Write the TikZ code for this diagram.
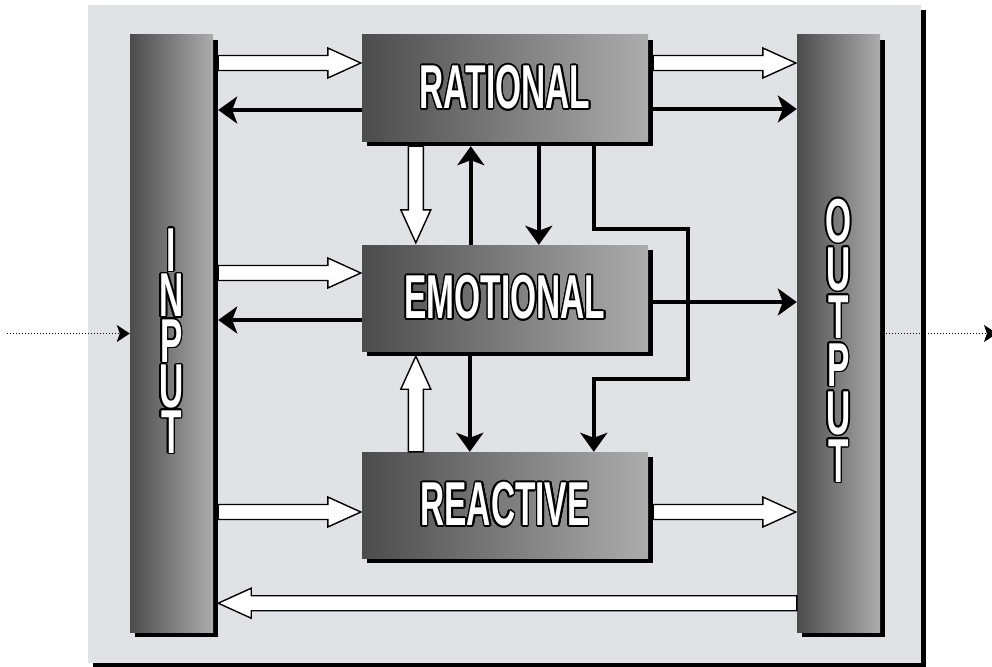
\documentclass[tikz,border=0pt]{standalone}
\usepackage{fontspec}
\usepackage{xcolor}
\usepackage[copies]{contour}
\usepackage{tikz}
\usetikzlibrary{arrows.meta,calc,shadows}
\newfontfamily\blockfont[FakeStretch=0.54]{Liberation Sans}
\definecolor{marble}{RGB}{224,226,230}
\definecolor{steeldark}{RGB}{76,76,76}
\definecolor{steellight}{RGB}{172,172,172}
\contourlength{1.6pt}

\begin{document}
\begin{tikzpicture}[
    x=1pt,y=-1pt,
    font=\blockfont\bfseries\fontsize{62}{62}\selectfont,
    box/.style={left color=steeldark,right color=steellight,text=white,
        minimum width=286pt,minimum height=106pt,inner sep=0pt,
        drop shadow={shadow xshift=5pt,shadow yshift=-5pt,fill=black,opacity=1}},
    bar/.style={left color=steeldark,right color=steellight,text=white,
        minimum width=83pt,minimum height=597pt,inner sep=0pt,align=center,
        drop shadow={shadow xshift=5pt,shadow yshift=-5pt,fill=black,opacity=1}},
    arrow/.style={-{Stealth[length=19pt,width=27pt,inset=5pt]},line width=4.5pt,
        draw=black,line join=miter},
    flow/.style={-{Stealth[length=13pt,width=17pt,inset=3pt]},line width=1.2pt,
        dash pattern=on 1.2pt off 1.8pt},
    hollow/.style={draw=black,line width=1.4pt,fill=white,line join=miter,
        to path={($(\tikztostart)!7.5pt!90:(\tikztotarget)$)
            -- ($(\tikztotarget)!33pt!(\tikztostart)!7.5pt!90:(\tikztotarget)$)
            -- ($(\tikztotarget)!33pt!(\tikztostart)!15pt!90:(\tikztotarget)$)
            -- (\tikztotarget)
            -- ($(\tikztotarget)!33pt!(\tikztostart)!15pt!-90:(\tikztotarget)$)
            -- ($(\tikztotarget)!33pt!(\tikztostart)!7.5pt!-90:(\tikztotarget)$)
            -- ($(\tikztostart)!7.5pt!-90:(\tikztotarget)$) -- cycle}}
]
\useasboundingbox (0,0) rectangle (992,666);
\fill[black] (93,10) rectangle (926,668);
\fill[marble] (88,5) rectangle (921,663);

\node[bar,text height=241pt,font=\blockfont\bfseries\fontsize{62}{45.5}\selectfont] (input) at (171.5,333.5)
    {\contour{black}{I}\\\contour{black}{N}\\\contour{black}{P}\\\contour{black}{U}\\\contour{black}{T}};
\node[bar,text height=299pt,font=\blockfont\bfseries\fontsize{62}{48}\selectfont] (output) at (838.5,333.5)
    {\contour{black}{O}\\\contour{black}{U}\\\contour{black}{T}\\\contour{black}{P}\\\contour{black}{U}\\\contour{black}{T}};
\node[box] (rational) at (505,88) {\contour{black}{RATIONAL}};
\node[box] (emotional) at (505,298) {\contour{black}{EMOTIONAL}};
\node[box] (reactive) at (505,505) {\contour{black}{REACTIVE}};

\coordinate (source) at (7,333.5);
\coordinate (sink) at (997,333.5);
\draw[flow] (source) -- (input.west);
\draw[flow] (output.east) -- (sink);

\draw[hollow] ($(input.east |- rational.center)+(5,-25)$) to ($(rational.west)+(-1,-25)$);
\draw[arrow] ($(rational.west)+(0,22)$) -- ($(input.east |- rational.center)+(5,22)$);
\draw[hollow] ($(rational.east)+(5,-25)$) to ($(output.west |- rational.center)+(-1,-25)$);
\draw[arrow] ($(rational.east)+(5,21)$) -- ($(output.west |- rational.center)+(0,21)$);

\draw[hollow] ($(input.east |- emotional.center)+(5,-25)$) to ($(emotional.west)+(-1,-25)$);
\draw[arrow] ($(emotional.west)+(0,22)$) -- ($(input.east |- emotional.center)+(5,22)$);
\draw[arrow] ($(emotional.east)+(5,4)$) -- ($(output.west |- emotional.center)+(0,4)$);

\draw[hollow] ($(input.east |- reactive.center)+(5,7)$) to ($(reactive.west)+(-1,7)$);
\draw[hollow] ($(reactive.east)+(5,7)$) to ($(output.west |- reactive.center)+(-1,7)$);
\draw[hollow] ($(output.south west)+(0,-29)$) to ($(input.south east)+(5,-29)$);

\draw[hollow] ($(rational.south west)+(54,5)$) to ($(emotional.north west)+(54,-2)$);
\draw[arrow] (emotional.north west) ++(109,0) -- ($(rational.south west)+(109,5)$);
\draw[arrow] ($(rational.south west)+(177,5)$) -- ($(emotional.north west)+(177,0)$);
\draw[arrow] ($(rational.south west)+(232,5)$) -- ++(0,83) -- ++(94,0) -- ++(0,150)
    -- ++(-94,0) -- ($(reactive.north west)+(232,0)$);

\draw[hollow] ($(reactive.north west)+(54,0)$) to ($(emotional.south west)+(54,5)$);
\draw[arrow] ($(emotional.south west)+(108,5)$) -- ($(reactive.north west)+(108,0)$);
\end{tikzpicture}
\end{document}
